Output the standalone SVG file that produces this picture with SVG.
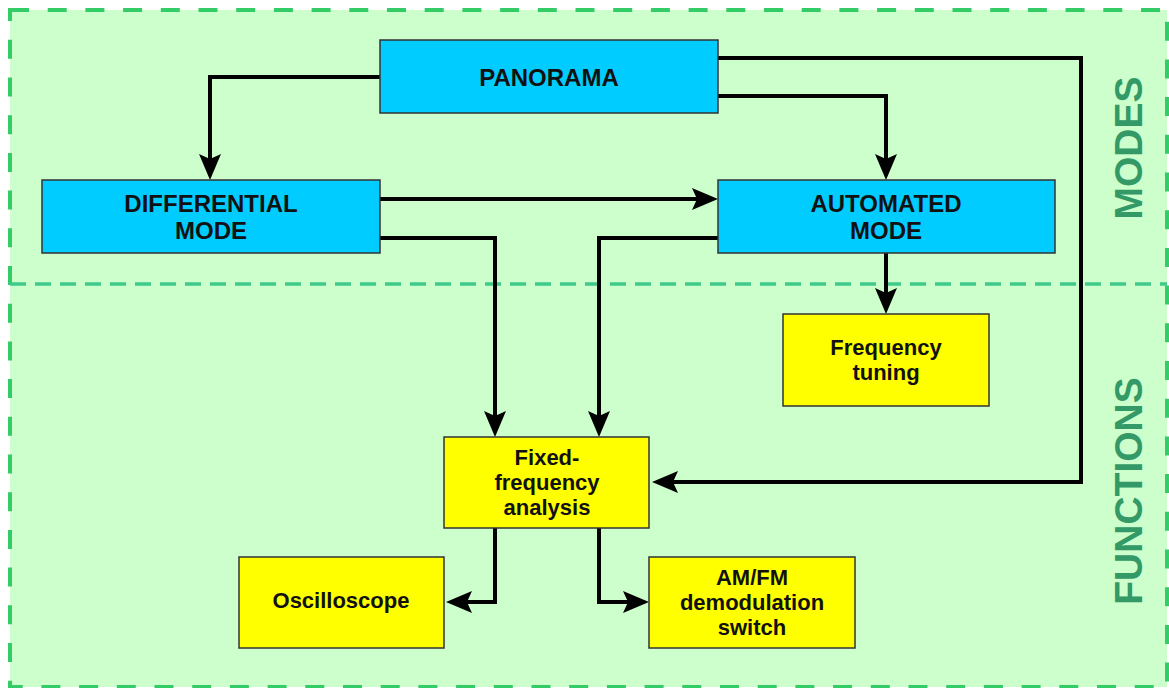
<svg xmlns="http://www.w3.org/2000/svg" width="1169" height="688" viewBox="0 0 1169 688">
<style>
.frame{fill:#ccffcc;stroke:#33cc66;stroke-width:4;stroke-dasharray:19 18.7}
.divider{fill:none;stroke:#3fca8a;stroke-width:3.5;stroke-dasharray:16 9}
.mode rect{fill:#00ccff;stroke:#333;stroke-width:1.5}
.func rect{fill:#ffff00;stroke:#333;stroke-width:1.5}
.mode text{font-family:"Liberation Sans",Arial,sans-serif;font-weight:bold;font-size:24px;fill:#111;text-anchor:middle}
.func text{font-family:"Liberation Sans",Arial,sans-serif;font-weight:bold;font-size:22px;fill:#111;text-anchor:middle}
.side{font-family:"Liberation Sans",Arial,sans-serif;font-weight:bold;font-size:39px;fill:#339966;text-anchor:middle}
.conn path{fill:none;stroke:#000;stroke-width:4;stroke-linejoin:miter;marker-end:url(#arrow)}
</style>
<defs>
<marker id="arrow" markerUnits="userSpaceOnUse" viewBox="-28 -12 30 24" markerWidth="30" markerHeight="24" refX="-18" refY="0" orient="auto" overflow="visible">
<path d="M0,0 L-26,-11 L-21,0 L-26,11 Z" fill="#000"/>
</marker>
</defs>
<rect class="frame" x="10" y="10" width="1157" height="677"/>
<path class="divider" d="M10,284 H1167"/>
<text class="side" transform="translate(1142,148) rotate(-90)">MODES</text>
<text class="side" transform="translate(1142,491) rotate(-90)">FUNCTIONS</text>
<g class="conn" id="connectors">
<path d="M380,77 H210 V162"/>
<path d="M718,58 H1081 V482 H670"/>
<path d="M718,96 H886 V162"/>
<path d="M380,199 H700"/>
<path d="M380,238 H495 V419"/>
<path d="M718,238 H599 V419"/>
<path d="M886,253 V296"/>
<path d="M495,528 V602 H464"/>
<path d="M599,528 V602 H631"/>
</g>
<g class="mode" id="panorama">
<rect x="380" y="40" width="338" height="73"/>
<text x="549" y="86">PANORAMA</text>
</g>
<g class="mode" id="differential">
<rect x="42" y="180" width="338" height="73"/>
<text x="211" y="212">DIFFERENTIAL</text>
<text x="211" y="239">MODE</text>
</g>
<g class="mode" id="automated">
<rect x="718" y="180" width="337" height="73"/>
<text x="886" y="212">AUTOMATED</text>
<text x="886" y="239">MODE</text>
</g>
<g class="func" id="freqtuning">
<rect x="783" y="314" width="206" height="92"/>
<text x="886" y="355">Frequency</text>
<text x="886" y="380">tuning</text>
</g>
<g class="func" id="fixedfreq">
<rect x="444" y="437" width="205" height="91"/>
<text x="547" y="465">Fixed-</text>
<text x="547" y="490">frequency</text>
<text x="547" y="515">analysis</text>
</g>
<g class="func" id="oscilloscope">
<rect x="239" y="557" width="205" height="91"/>
<text x="341" y="608">Oscilloscope</text>
</g>
<g class="func" id="amfm">
<rect x="649" y="557" width="206" height="91"/>
<text x="752" y="585">AM/FM</text>
<text x="752" y="610">demodulation</text>
<text x="752" y="635">switch</text>
</g>
</svg>
